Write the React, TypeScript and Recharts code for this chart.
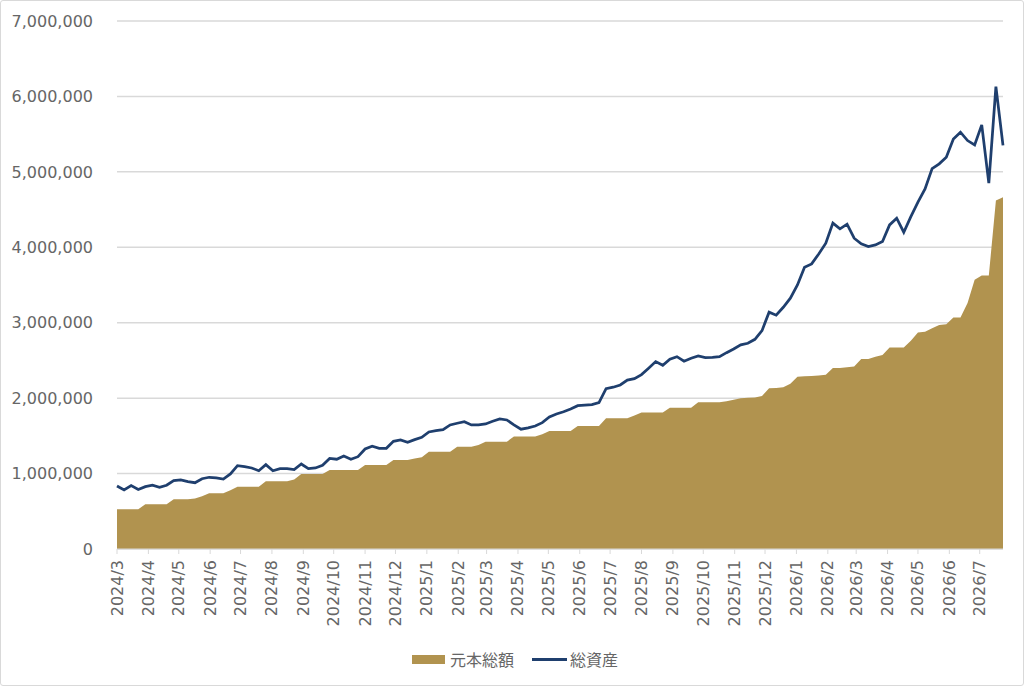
import { ComposedChart, Area, Line, XAxis, YAxis, CartesianGrid, Legend } from 'recharts';

// weekly snapshots, first one on this date
const START_DATE = '2024-03-01';

const MONTH_LABELS = [
  '2024/3', '2024/4', '2024/5', '2024/6', '2024/7', '2024/8', '2024/9', '2024/10', '2024/11', '2024/12',
  '2025/1', '2025/2', '2025/3', '2025/4', '2025/5', '2025/6', '2025/7', '2025/8', '2025/9', '2025/10',
  '2025/11', '2025/12', '2026/1', '2026/2', '2026/3', '2026/4', '2026/5', '2026/6', '2026/7',
];

const Y_TICKS = [0, 1000000, 2000000, 3000000, 4000000, 5000000, 6000000, 7000000];

// 元本総額 (weekly)
const PRINCIPAL = [
  526000, 526000, 526000, 526000, 593000, 593000, 593000, 593000,
  659000, 659000, 659000, 670000, 700000, 739000, 739000, 739000,
  780000, 826000, 826000, 826000, 826000, 898000, 898000, 898000, 898000,
  920000, 995000, 995000, 995000, 995000,
  1048000, 1048000, 1048000, 1048000, 1048000, 1114000, 1114000, 1114000, 1114000,
  1180000, 1180000, 1180000, 1200000, 1216000, 1290000, 1290000, 1290000, 1290000,
  1357000, 1357000, 1357000, 1380000, 1423000, 1423000, 1423000, 1423000,
  1490000, 1490000, 1490000, 1490000, 1520000, 1565000, 1565000, 1565000, 1565000,
  1631000, 1631000, 1631000, 1631000, 1733000, 1733000, 1733000, 1733000,
  1770000, 1810000, 1810000, 1810000, 1810000, 1874000, 1874000, 1874000, 1874000,
  1946000, 1946000, 1946000, 1946000, 1960000, 1980000, 2000000, 2005000, 2010000,
  2030000, 2130000, 2135000, 2145000, 2190000, 2285000, 2290000, 2295000, 2300000, 2310000,
  2400000, 2400000, 2410000, 2420000, 2520000, 2520000, 2550000, 2573000,
  2670000, 2670000, 2670000, 2760000, 2870000, 2880000, 2927000, 2970000, 2980000,
  3070000, 3070000, 3260000, 3570000, 3625000, 3625000, 4620000, 4665000,
];

// 総資産 (weekly)
const TOTAL_ASSETS = [
  836000, 782000, 840000, 790000, 826000, 845000, 818000, 845000,
  906000, 915000, 893000, 879000, 932000, 951000, 942000, 928000,
  995000, 1105000, 1092000, 1074000, 1038000, 1118000, 1038000, 1065000, 1065000,
  1052000, 1127000, 1065000, 1074000, 1110000,
  1200000, 1190000, 1233000, 1190000, 1224000, 1326000, 1362000, 1335000, 1335000,
  1428000, 1446000, 1415000, 1450000, 1481000, 1552000, 1569000, 1582000, 1645000,
  1667000, 1688000, 1645000, 1645000, 1658000, 1694000, 1724000, 1711000,
  1645000, 1588000, 1605000, 1631000, 1675000, 1750000, 1790000, 1820000, 1855000,
  1900000, 1906000, 1914000, 1940000, 2126000, 2145000, 2175000, 2240000,
  2259000, 2312000, 2397000, 2485000, 2436000, 2516000, 2550000, 2490000, 2530000,
  2560000, 2537000, 2542000, 2550000, 2603000, 2652000, 2706000, 2728000, 2780000,
  2895000, 3140000, 3100000, 3205000, 3325000, 3500000, 3736000, 3780000, 3912000, 4054000,
  4320000, 4244000, 4306000, 4120000, 4045000, 4010000, 4032000, 4076000,
  4297000, 4386000, 4200000, 4407000, 4598000, 4775000, 5044000, 5106000, 5195000,
  5434000, 5526000, 5415000, 5358000, 5623000, 4850000, 6130000, 5350000,
];

const GOLD = '#B1934F';
const NAVY = '#1F3F6E';
const GRID = '#D9D9D9';
const TEXT = '#666666';
const FONT = '"DejaVu Sans", Verdana, sans-serif';
const CJK_FONT = '"Noto Sans CJK JP", sans-serif';

const DAY_MS = 86400000;
const startMs = Date.parse(START_DATE);
const monthDay = (label: string) => {
  const [y, m] = label.split('/').map(Number);
  return Math.round((Date.UTC(y, m - 1, 1) - startMs) / DAY_MS);
};

const monthTicks = MONTH_LABELS.map(monthDay);
const tickLabel = new Map(monthTicks.map((d, i) => [d, MONTH_LABELS[i]]));

const data = PRINCIPAL.map((p, i) => ({
  day: i * 7,
  principal: p,
  total: TOTAL_ASSETS[i],
}));
const lastDay = (data.length - 1) * 7;

function MonthTick(props: any) {
  const { x, y, payload } = props;
  return (
    <text
      x={x}
      y={y}
      transform={`rotate(-90 ${x} ${y})`}
      textAnchor="end"
      dominantBaseline="central"
      fill={TEXT}
      fontSize={16}
      fontFamily={FONT}
    >
      {tickLabel.get(payload.value)}
    </text>
  );
}

function ChartLegend() {
  const item = { display: 'flex', alignItems: 'center' } as const;
  return (
    <div
      style={{
        display: 'flex',
        justifyContent: 'center',
        gap: 18,
        paddingLeft: 6,
        fontFamily: CJK_FONT,
        fontSize: 16,
        color: TEXT,
      }}
    >
      <div style={item}>
        <span style={{ width: 33, height: 9, background: GOLD, marginRight: 5 }} />
        元本総額
      </div>
      <div style={item}>
        <span style={{ width: 35, height: 3, background: NAVY, marginRight: 3 }} />
        総資産
      </div>
    </div>
  );
}

export default function App() {
  return (
    <div style={{ position: 'absolute', left: 0, top: 0, width: 1024, height: 686, background: '#fff' }}>
      <ComposedChart
        width={1024}
        height={686}
        data={data}
        margin={{ top: 21, right: 21, bottom: 52, left: 0 }}
      >
        <CartesianGrid vertical={false} stroke={GRID} strokeWidth={1.5} />
        <XAxis
          dataKey="day"
          type="number"
          domain={[0, lastDay]}
          ticks={monthTicks}
          interval={0}
          height={85}
          tickSize={5}
          tickMargin={6}
          stroke={GRID}
          tick={<MonthTick />}
        />
        <YAxis
          width={117}
          domain={[0, 7000000]}
          ticks={Y_TICKS}
          axisLine={false}
          tickLine={false}
          tickSize={0}
          tickMargin={24}
          tickFormatter={(v: number) => v.toLocaleString('en-US')}
          tick={{ fill: TEXT, fontSize: 16, fontFamily: FONT }}
        />
        <Area
          type="linear"
          dataKey="principal"
          name="元本総額"
          fill={GOLD}
          fillOpacity={1}
          stroke="none"
          isAnimationActive={false}
        />
        <Line
          type="linear"
          dataKey="total"
          name="総資産"
          stroke={NAVY}
          strokeWidth={2.75}
          dot={false}
          isAnimationActive={false}
        />
        <Legend
          verticalAlign="middle"
          align="center"
          wrapperStyle={{ top: 647, left: 0, width: 1024 }}
          content={<ChartLegend />}
        />
      </ComposedChart>
      <div
        style={{
          position: 'absolute',
          left: 0,
          top: 0,
          width: 1022,
          height: 684,
          border: `1.5px solid ${GRID}`,
          borderRadius: 3,
          pointerEvents: 'none',
        }}
      />
    </div>
  );
}
